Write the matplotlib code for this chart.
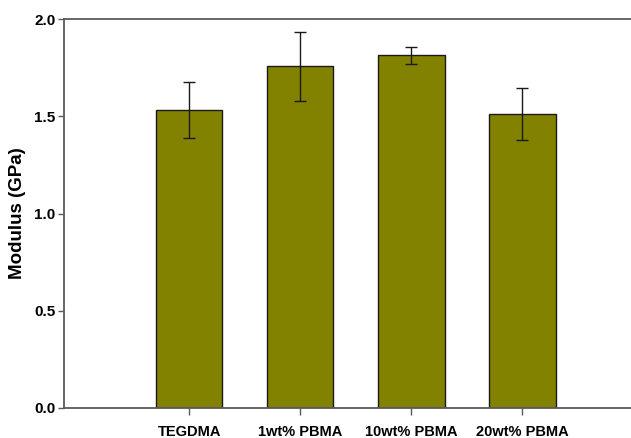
import matplotlib

matplotlib.use("Agg")
import matplotlib.pyplot as plt

# bar heights and standard deviations
groups = ["TEGDMA", "1wt% PBMA", "10wt% PBMA", "20wt% PBMA"]
modulus = [1.534, 1.757, 1.814, 1.510]
modulus_sd = [0.144, 0.177, 0.043, 0.134]

yticks = [0.0, 0.5, 1.0, 1.5, 2.0]

BAR = "#828200"
AXIS = "#5a5a5a"

plt.rcParams["font.family"] = ["Liberation Sans", "DejaVu Sans"]
plt.rcParams["font.weight"] = "bold"

fig = plt.figure(figsize=(6.31, 4.38), dpi=100)
ax = fig.add_axes([0.101, 0.0685, 0.899, 0.888])

x = range(len(groups))
ax.bar(x, modulus, width=0.6, color=BAR, edgecolor="#1a1a1a", linewidth=1.0,
       zorder=2)
ax.errorbar(x, modulus, yerr=modulus_sd, fmt="none", ecolor="#1a1a1a",
            elinewidth=1.0, capsize=4.3, capthick=1.0, zorder=3)

ax.set_xlim(-1.13, 3.98)
ax.set_ylim(0, 2.0)
ax.set_yticks(yticks, [f"{v:.1f}" for v in yticks])
ax.set_xticks(list(x), groups)

ax.set_ylabel("Modulus (GPa)", fontsize=13.5, fontweight="bold")
ax.yaxis.set_label_coords(-0.067, 0.5)

for side in ("left", "bottom", "top"):
    ax.spines[side].set_color(AXIS)
    ax.spines[side].set_linewidth(1.3)
ax.spines["right"].set_visible(False)

ax.tick_params(axis="y", direction="out", length=4, width=1.0, color=AXIS,
               labelsize=11, pad=2)
ax.tick_params(axis="x", direction="out", length=5, width=1.0, color=AXIS,
               labelsize=10.5, pad=7)

fig.savefig("out.png", dpi=100)
